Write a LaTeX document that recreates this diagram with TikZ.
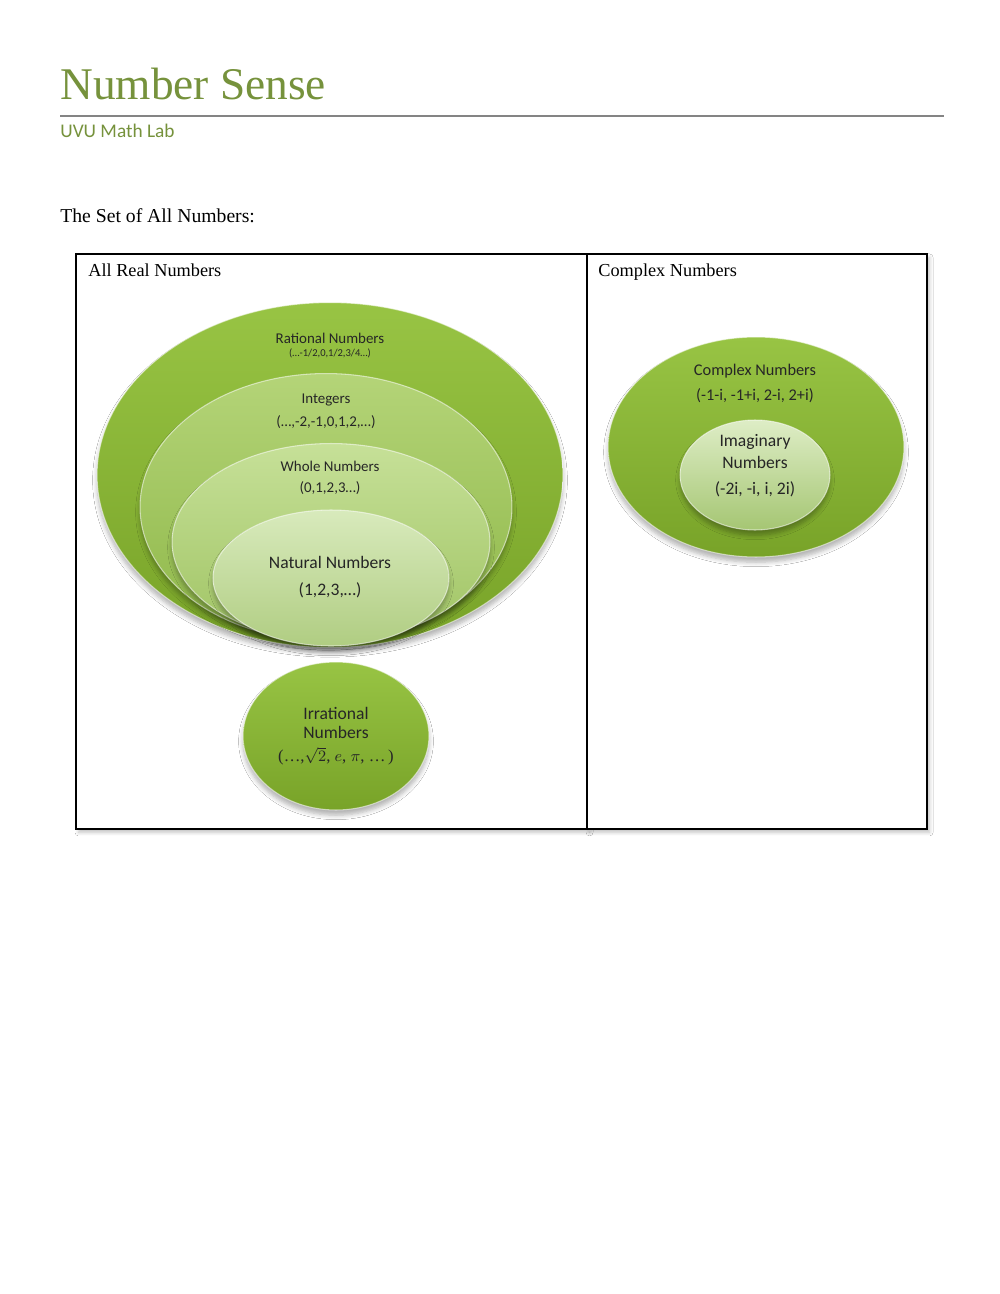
\documentclass[tikz,border=0pt]{standalone}
\usepackage{fontspec}
\setmainfont{Liberation Serif}
\newfontfamily\labelfont{Carlito}
\usetikzlibrary{positioning,shapes.geometric,shadows.blur}
\definecolor{titlegreen}{RGB}{118,146,60}
\definecolor{rulegray}{RGB}{132,132,132}
\definecolor{ratTop}{RGB}{152,196,68}
\definecolor{ratBot}{RGB}{120,163,40}
\definecolor{intTop}{RGB}{180,212,120}
\definecolor{intBot}{RGB}{142,183,72}
\definecolor{wholeTop}{RGB}{198,224,152}
\definecolor{wholeBot}{RGB}{160,196,100}
\definecolor{natTop}{RGB}{216,234,188}
\definecolor{natBot}{RGB}{176,205,130}
\definecolor{imgTop}{RGB}{222,237,198}
\definecolor{imgBot}{RGB}{165,198,115}
\tikzset{
  numset/.style={ellipse, inner sep=0pt, draw=white, draw opacity=0.55, line width=0.6pt,
    blur shadow={shadow xshift=0pt, shadow yshift=-3pt, shadow blur radius=2.5pt, shadow blur steps=6, shadow opacity=30}},
  setname/.style={font=\labelfont\fontsize{8.5}{10}\selectfont, text=black!85, inner sep=0pt},
  setrange/.style={setname, font=\labelfont\fontsize{6}{7}\selectfont},
  bigname/.style={setname, font=\labelfont\fontsize{10}{12}\selectfont},
  cell/.style={rectangle, draw=black, line width=1.1pt, fill=white, anchor=north west, inner sep=0pt,
    blur shadow={shadow xshift=1.5pt, shadow yshift=-2pt, shadow blur radius=2pt, shadow blur steps=5, shadow opacity=25}},
  celltitle/.style={font=\fontsize{10.4}{12}\selectfont, inner sep=0pt, anchor=base west}
}
\begin{document}
\begin{tikzpicture}[x=0.02cm, y=-0.02cm]
  \useasboundingbox[fill=white] (0,0) rectangle (1000,1294);

  % heading
  \node[anchor=base west, inner sep=0pt, text=titlegreen, font=\fontsize{25.8}{30}\selectfont] (title) at (60,100) {Number Sense};
  \draw[rulegray, line width=1.1pt] (60,116) -- (944,116);
  \node[anchor=base west, inner sep=0pt, text=titlegreen, font=\labelfont\fontsize{11}{13}\selectfont] (lab) at (60,138) {UVU Math Lab};
  \node[anchor=base west, inner sep=0pt, font=\fontsize{11.2}{13}\selectfont] (intro) at (60,222) {The Set of All Numbers:};

  % the two cells
  \node[cell, minimum width=10.22cm, minimum height=11.5cm] (realcell) at (75,253) {};
  \node[cell, minimum width=6.8cm, minimum height=11.5cm] (complexcell) at (586,253) {};
  \node[celltitle] (realtitle) at (88,276) {All Real Numbers};
  \node[celltitle] (complextitle) at (598,276) {Complex Numbers};

  % real numbers
  \node[numset, top color=ratTop, bottom color=ratBot, minimum width=9.32cm, minimum height=6.9cm] (rational) at (330,475) {};
  \node[numset, top color=intTop, bottom color=intBot, minimum width=7.44cm, minimum height=5.34cm] (integers) at (326,507) {};
  \node[numset, top color=wholeTop, bottom color=wholeBot, minimum width=6.36cm, minimum height=3.94cm] (whole) at (331,542) {};
  \node[numset, top color=natTop, bottom color=natBot, minimum width=4.72cm, minimum height=2.72cm] (natural) at (331,578) {};
  \node[numset, top color=ratTop, bottom color=ratBot, minimum width=3.72cm, minimum height=2.96cm] (irrational) at (336,736) {};

  \node[setname] (ratname) at (330,338) {Rational Numbers};
  \node[setrange] (ratrange) at (330,353) {(\ldots-1/2,0,1/2,3/4\ldots)};
  \node[setname] (intname) at (326,400) {Integers};
  \node[setname] (intrange) at (326,422) {(\ldots,-2,-1,0,1,2,\ldots)};
  \node[setname] (wholename) at (330,466) {Whole Numbers};
  \node[setname] (wholerange) at (330,488) {(0,1,2,3\ldots)};
  \node[bigname] (natname) at (330,562) {Natural Numbers};
  \node[bigname] (natrange) at (330,590) {(1,2,3,\ldots)};
  \node[bigname, align=center] (irrname) at (336,736) {Irrational\\[-1pt]Numbers\\[1pt]{\fontsize{9.5}{11}\selectfont\rmfamily(\ldots,$\sqrt{2}$, $e$, $\pi$, \ldots\,)}};

  % complex numbers
  \node[numset, top color=ratTop, bottom color=ratBot, minimum width=5.92cm, minimum height=4.4cm] (complex) at (756,447) {};
  \node[numset, top color=imgTop, bottom color=imgBot, minimum width=3cm, minimum height=2.2cm] (imaginary) at (755,475) {};

  \node[setname, font=\labelfont\fontsize{9.3}{11}\selectfont] (cplxname) at (755,371) {Complex Numbers};
  \node[setname, font=\labelfont\fontsize{9.3}{11}\selectfont] (cplxrange) at (755,396) {(-1-i, -1+i, 2-i, 2+i)};
  \node[bigname] (imgname) at (755,442) {Imaginary};
  \node[bigname] (imgname2) at (755,462) {Numbers};
  \node[bigname] (imgrange) at (755,489) {(-2i, -i, i, 2i)};
\end{tikzpicture}
\end{document}
